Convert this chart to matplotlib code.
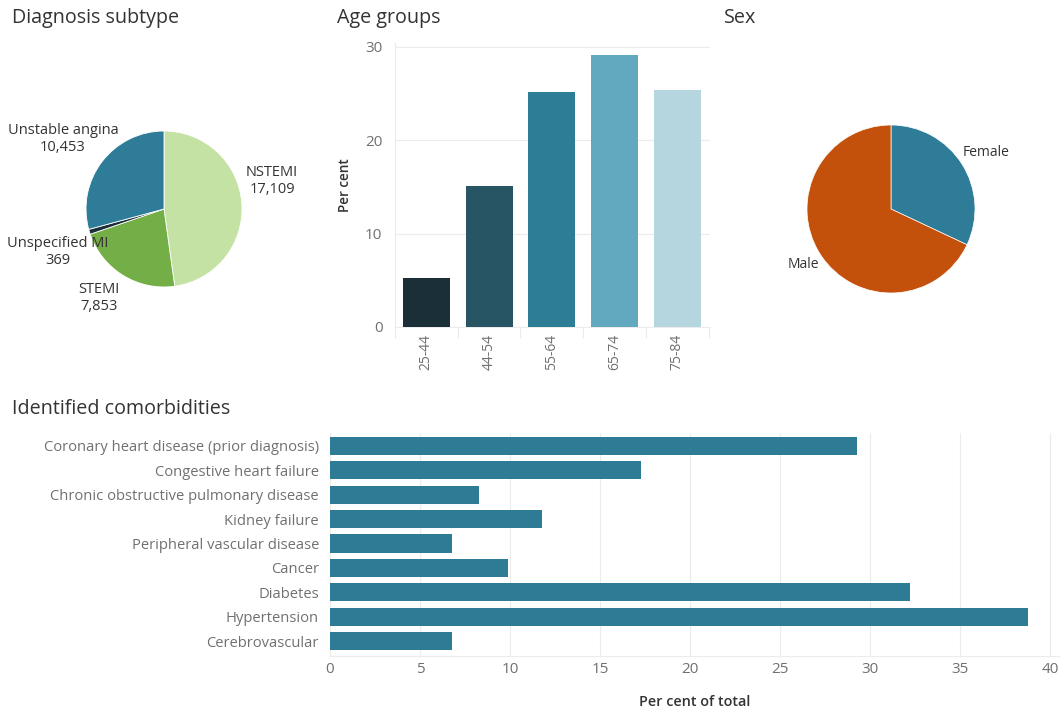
import numpy as np
import matplotlib
matplotlib.use("Agg")
import matplotlib.pyplot as plt

plt.rcParams.update({"font.family": ["Open Sans", "DejaVu Sans"],
                     "font.size": 10})

W, H = 1062, 709

# ---------------------------------------------------------------- data
subtype_labels = ["NSTEMI", "STEMI", "Unspecified MI", "Unstable angina"]
subtype_counts = [17109, 7853, 369, 10453]
subtype_colors = ["#c3e2a4", "#73ae47", "#1c2f38", "#2e7c98"]

age_groups = ["25-44", "44-54", "55-64", "65-74", "75-84"]
age_pct = [5.2, 15.1, 25.2, 29.1, 25.4]
age_colors = ["#1b2f38", "#275563", "#2e7d97", "#62a8bf", "#b6d6df"]

sex_labels = ["Female", "Male"]
sex_pct = [32, 68]
sex_colors = ["#2e7c98", "#c4510b"]

comorb = ["Coronary heart disease (prior diagnosis)", "Congestive heart failure",
          "Chronic obstructive pulmonary disease", "Kidney failure",
          "Peripheral vascular disease", "Cancer", "Diabetes", "Hypertension",
          "Cerebrovascular"]
comorb_pct = [29.3, 17.3, 8.3, 11.8, 6.8, 9.9, 32.2, 38.8, 6.8]

TXT = "#333333"
TICK = "#707070"
GRID = "#ececec"


def box(l, t, r, b):
    return [l / W, 1 - b / H, (r - l) / W, (b - t) / H]


fig = plt.figure(figsize=(W / 100, H / 100), dpi=100)

# titles
for x, y, s in [(12, 18, "Diagnosis subtype"), (337, 18, "Age groups"),
                (724, 18, "Sex"), (12, 409, "Identified comorbidities")]:
    fig.text(x / W, 1 - y / H, s, fontsize=14.2, color=TXT, va="center", ha="left")

# ------------------------------------------------ diagnosis subtype pie
cx, cy, r = 164, 209, 78
ax1 = fig.add_axes(box(cx - r, cy - r, cx + r, cy + r))
ax1.pie(subtype_counts, colors=subtype_colors, startangle=90, counterclock=False,
        radius=1, wedgeprops=dict(linewidth=0.6, edgecolor="white"))
ax1.set_xlim(-1, 1); ax1.set_ylim(-1, 1); ax1.set_aspect("equal"); ax1.axis("off")
lab_pos = {"NSTEMI": (272, 181), "STEMI": (99, 298),
           "Unspecified MI": (58, 252), "Unstable angina": (63, 139)}
for lab, cnt in zip(subtype_labels, subtype_counts):
    px, py = lab_pos[lab]
    ax1.text((px - cx) / r, (cy - py) / r, f"{lab}\n{cnt:,}", ha="center",
             va="center", fontsize=10.5, color=TXT, clip_on=False, linespacing=1.2)

# ------------------------------------------------------ age groups bar
ax2 = fig.add_axes(box(395, 43, 710, 327))
x = np.arange(len(age_groups))
ax2.bar(x, age_pct, width=0.75, color=age_colors, zorder=3)
ax2.set_xlim(-0.48, 4.52)
ax2.set_ylim(0, 30.4)
ax2.set_yticks([0, 10, 20, 30])
ax2.set_xticks(x)
ax2.set_xticklabels(age_groups, rotation=90)
ax2.set_xticks(np.arange(-0.5, 5, 1), minor=True)
ax2.tick_params(axis="x", which="major", length=0, pad=5, colors=TICK, labelsize=10)
ax2.tick_params(axis="x", which="minor", length=8, color=GRID, width=0.8)
ax2.tick_params(axis="y", length=0, pad=9, colors=TICK, labelsize=11)
ax2.grid(axis="y", color=GRID, lw=0.8, zorder=0)
for s in ["top", "right"]:
    ax2.spines[s].set_visible(False)
ax2.spines["left"].set_color(GRID)
ax2.spines["bottom"].set_color(GRID)
ax2.set_ylabel("Per cent", fontsize=9.8, color=TXT, fontweight="semibold")
ax2.yaxis.set_label_coords(-0.135, 0.5)

# ------------------------------------------------------------- sex pie
cx, cy, r = 891, 209, 84
ax3 = fig.add_axes(box(cx - r, cy - r, cx + r, cy + r))
ax3.pie(sex_pct, colors=sex_colors, startangle=90, counterclock=False,
        radius=1, wedgeprops=dict(linewidth=0.5, edgecolor="white"))
ax3.set_xlim(-1, 1); ax3.set_ylim(-1, 1); ax3.set_aspect("equal"); ax3.axis("off")
for lab, (px, py) in zip(sex_labels, [(963, 153), (788, 265)]):
    ax3.text((px - cx) / r, (cy - py) / r, lab, ha="left", va="center",
             fontsize=10, color=TXT, clip_on=False)

# ------------------------------------------------- comorbidities hbar
ax4 = fig.add_axes(box(330, 433, 1059, 656))
y = np.arange(len(comorb))
ax4.barh(y, comorb_pct, height=0.74, color="#2e7b96", zorder=3)
ax4.set_ylim(8.61, -0.53)
ax4.set_xlim(0, 40.5)
ax4.set_yticks(y)
ax4.set_yticklabels(comorb)
ax4.set_xticks(np.arange(0, 41, 5))
ax4.tick_params(axis="y", length=0, pad=8, colors=TICK, labelsize=10.6)
ax4.tick_params(axis="x", length=0, pad=4, colors=TICK, labelsize=11)
ax4.grid(axis="x", color=GRID, lw=0.8, zorder=0)
for s in ["top", "right"]:
    ax4.spines[s].set_visible(False)
ax4.spines["left"].set_color(GRID)
ax4.spines["bottom"].set_color(GRID)
ax4.set_xlabel("Per cent of total", fontsize=10.4, color=TXT, fontweight="semibold",
               labelpad=13)

fig.savefig("out.png", dpi=100)
